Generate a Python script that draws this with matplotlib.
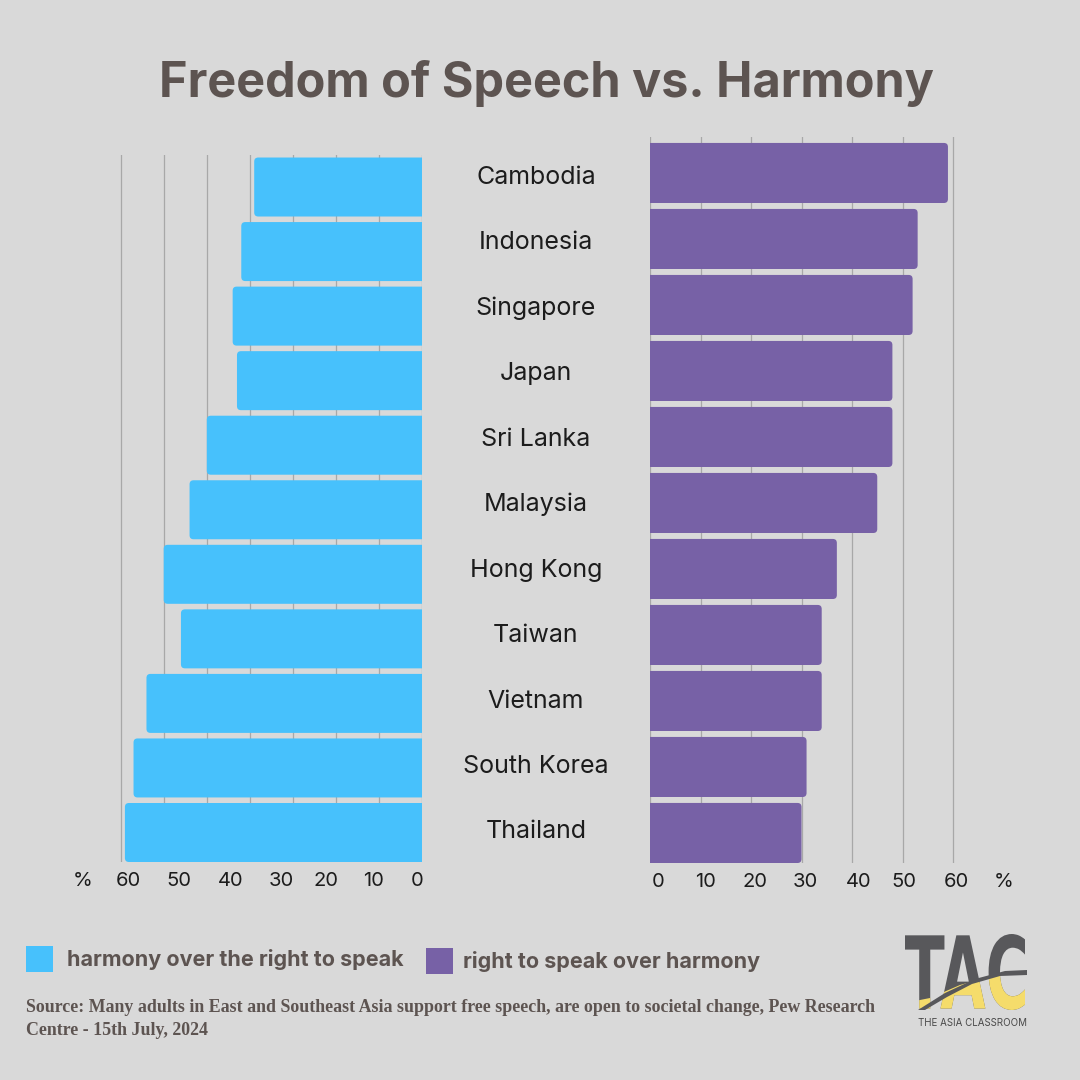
import matplotlib.pyplot as plt
from matplotlib.patches import FancyBboxPatch, Rectangle, PathPatch, Polygon
from matplotlib.textpath import TextPath
from matplotlib.font_manager import FontProperties
from matplotlib.transforms import Affine2D

countries = ["Cambodia", "Indonesia", "Singapore", "Japan", "Sri Lanka", "Malaysia",
             "Hong Kong", "Taiwan", "Vietnam", "South Korea", "Thailand"]
harmony = [39, 42, 44, 43, 50, 54, 60, 56, 64, 67, 69]   # harmony over the right to speak
speak = [59, 53, 52, 48, 48, 45, 37, 34, 34, 31, 30]     # right to speak over harmony
tick_labels = ["0", "10", "20", "30", "40", "50", "60", "%"]

BG = "#d9d9d9"
BLUE = "#47c1fc"
PURPLE = "#7761a6"
TXT = "#5d5451"
DARK = "#1c1c1c"
GRID = "#a8a8a8"
W = H = 1080

plt.rcParams['font.family'] = ['Inter', 'DejaVu Sans']

fig = plt.figure(figsize=(10.8, 10.8), dpi=100, facecolor=BG)


def px_axes(x0, y0, x1, y1):
    ax = fig.add_axes([x0 / W, 1 - y1 / H, (x1 - x0) / W, (y1 - y0) / H])
    ax.set_facecolor('none')
    for s in ax.spines.values():
        s.set_visible(False)
    return ax


def rounded_bars(ax, values, height, color, r_px=4):
    # round only the outer end: box starts a bit behind zero and gets clipped
    fig.canvas.draw()
    t = ax.transData
    ux = abs(t.transform((1, 0))[0] - t.transform((0, 0))[0])
    uy = abs(t.transform((0, 1))[1] - t.transform((0, 0))[1])
    for i, v in enumerate(values):
        p = FancyBboxPatch((-3, i - height / 2), v + 3, height,
                           boxstyle=f"round,pad=0,rounding_size={r_px / ux}",
                           mutation_aspect=ux / uy, fc=color, ec='none', zorder=2)
        ax.add_patch(p)


# left panel (harmony)
axl = px_axes(77.5, 155, 422.3, 862)
axl.set_xlim(80, 0)
axl.set_ylim(10.457, -0.496)
for g in range(0, 80, 10):
    axl.axvline(g, color=GRID, lw=0.9, zorder=0)
rounded_bars(axl, harmony, 0.914, BLUE)
axl.set_yticks([])
axl.set_xticks([1.3, 11.4, 22.4, 32.7, 44.5, 56.4, 68.2, 78.8], tick_labels)

# right panel (speak)
axr = px_axes(650, 137, 1028.75, 863)
axr.set_xlim(0, 75)
axr.set_ylim(10.455, -0.545)
for g in range(0, 70, 10):
    axr.axvline(g, color=GRID, lw=0.9, zorder=0)
rounded_bars(axr, speak, 0.91, PURPLE)
axr.set_yticks([])
axr.set_xticks([1.6, 11, 20.8, 30.8, 41.3, 50.2, 60.7, 70.1], tick_labels)

for ax in (axl, axr):
    ax.tick_params(axis='x', length=0, pad=7, labelsize=14.5, labelcolor=DARK)

# country names in the middle
for i, c in enumerate(countries):
    fig.text(536 / W, 1 - (177 + 65.5 * i) / H, c, ha='center', va='center',
             fontsize=18, color=DARK)

fig.text(546 / W, 1 - 84 / H, "Freedom of Speech vs. Harmony", ha='center', va='center',
         fontsize=35, fontweight='bold', color=TXT)

# overlay for legend, source and logo (pixel coordinates)
ov = fig.add_axes([0, 0, 1, 1])
ov.set_xlim(0, W)
ov.set_ylim(H, 0)
ov.axis('off')
ov.set_facecolor('none')

ov.add_patch(Rectangle((26, 946), 27, 26, fc=BLUE, ec='none'))
ov.text(67, 960, "harmony over the right to speak", fontsize=15.5, fontweight='bold',
        color=TXT, va='center')
ov.add_patch(Rectangle((426, 948), 27, 26, fc=PURPLE, ec='none'))
ov.text(463, 962, "right to speak over harmony", fontsize=15.5, fontweight='bold',
        color=TXT, va='center')

ov.text(26, 1019, "Source: Many adults in East and Southeast Asia support free speech, "
        "are open to societal change, Pew Research\nCentre - 15th July, 2024",
        family='Liberation Serif', fontweight='bold', fontsize=12.9, color=TXT,
        va='center', linespacing=1.45)

# TAC logo
fp = FontProperties(family='DejaVu Sans', weight='bold')
tp = TextPath((0, 0), "TAC", prop=fp)
ext = tp.get_extents()
lx0, lx1, ly0, ly1 = 905, 1025, 934, 1010
tr = (Affine2D().translate(-ext.x0, -ext.y0)
      .scale((lx1 - lx0) / ext.width, -(ly1 - ly0) / ext.height)
      .translate(lx0, ly1))
logo_path = tr.transform_path(tp)
ov.add_patch(PathPatch(logo_path, fc="#58585b", ec='none'))
below = Polygon([(900, 1004), (930, 998), (960, 985), (992, 976), (1030, 973),
                 (1030, 1015), (900, 1015)], closed=True, fc='none', ec='none')
ov.add_patch(below)
yel = PathPatch(logo_path, fc="#f5dc6b", ec='none')
ov.add_patch(yel)
yel.set_clip_path(below)
ov.add_patch(Polygon([(918, 1010), (945, 993), (975, 979), (1005, 971), (1027, 970),
                      (1027, 975), (1000, 976), (972, 984), (947, 997), (925, 1010)],
                     closed=True, fc="#58585b", ec='none'))
ov.text(973, 1023, "THE ASIA CLASSROOM", fontsize=7, color="#4a4a4a",
        ha='center', va='center')

fig.savefig("out.png", dpi=100, facecolor=BG)
